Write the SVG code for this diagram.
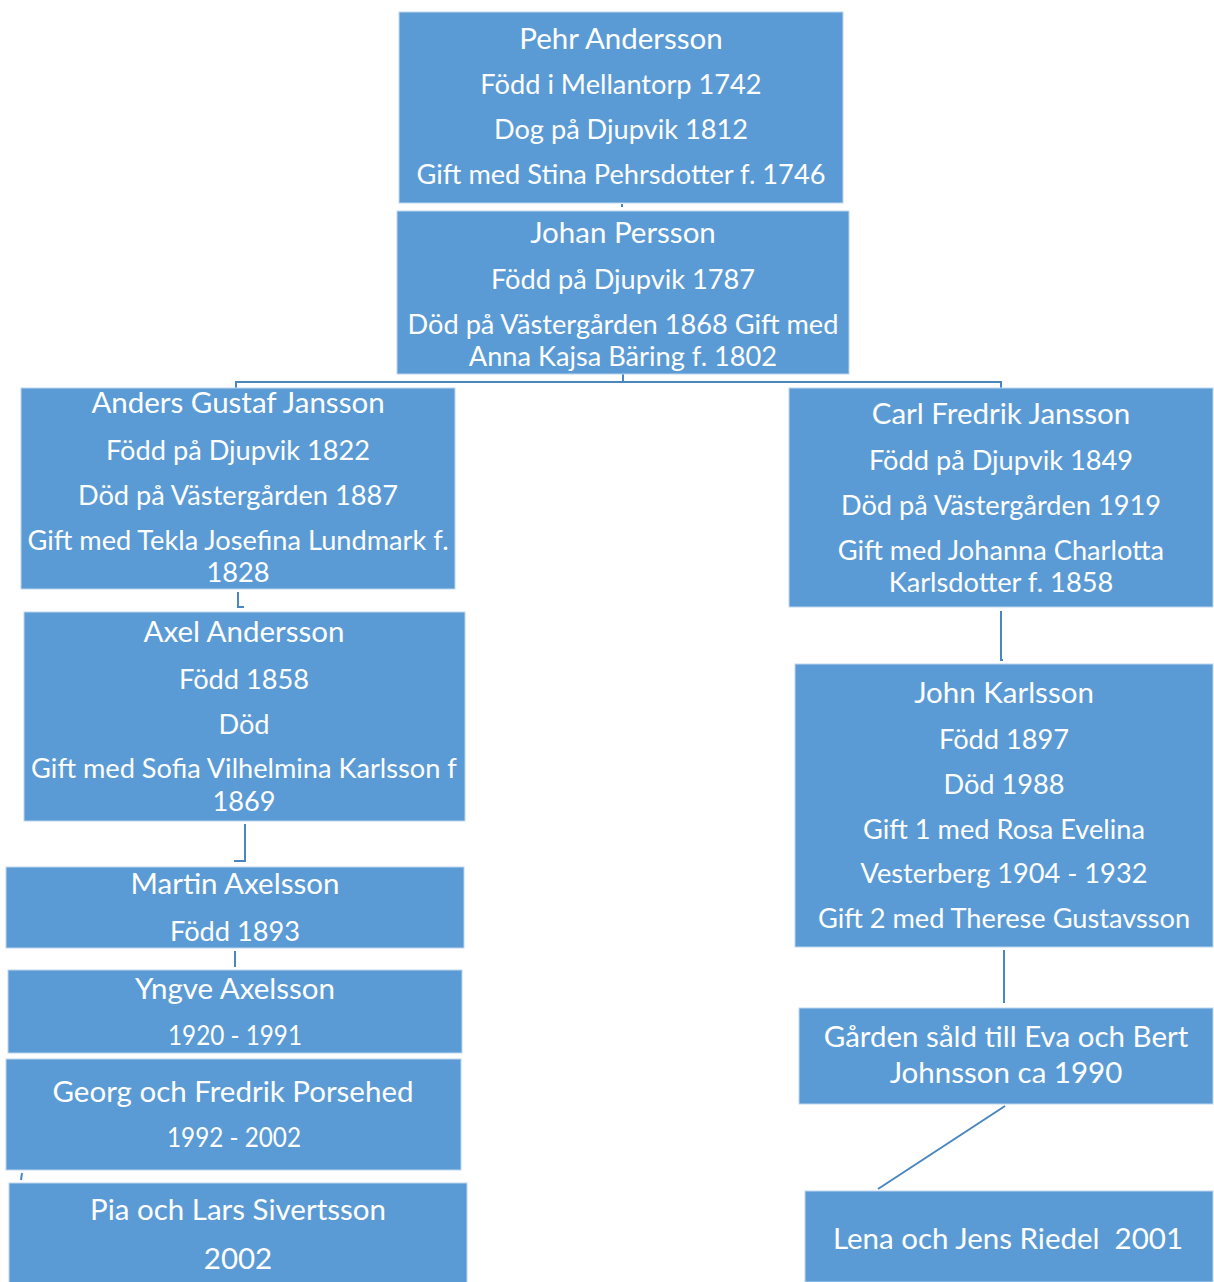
<svg xmlns="http://www.w3.org/2000/svg" width="1214" height="1282" viewBox="0 0 1214 1282">
<style>
.box{fill:#5B9BD5;stroke:#BDD5EE;stroke-width:1}
.t{font-family:Lato,"Liberation Sans",sans-serif;font-size:27.2px;fill:#FFFFFF;text-anchor:middle}
.h{font-size:29.5px}
.c{fill:none;stroke:#4A86C0;stroke-width:2}
</style>
<rect width="1214" height="1282" fill="#FFFFFF"/>
<g id="connectors">
<path class="c" d="M622,204 V207"/>
<path class="c" d="M623,374 V382 M236,388 V382 H1001 V388"/>
<path class="c" d="M238,592 V607 H244"/>
<path class="c" d="M245,824 V861 H234"/>
<path class="c" d="M235,951 V967"/>
<path class="c" d="M22,1173 L21,1180"/>
<path class="c" d="M1001,611 V660 H1003"/>
<path class="c" d="M1004,950 V1003"/>
<path class="c" d="M1005,1106 L878,1189"/>
</g>
<g id="pehr">
<rect class="box" x="399" y="12" width="444" height="191"/>
<text class="t h" x="621" y="49">Pehr Andersson</text>
<text class="t" x="621" y="94">Född i Mellantorp 1742</text>
<text class="t" x="621" y="139">Dog på Djupvik 1812</text>
<text class="t" x="621" y="184">Gift med Stina Pehrsdotter f. 1746</text>
</g>
<g id="johan">
<rect class="box" x="397" y="211" width="452" height="163"/>
<text class="t h" x="623" y="243">Johan Persson</text>
<text class="t" x="623" y="289">Född på Djupvik 1787</text>
<text class="t" x="623" y="334">Död på Västergården 1868 Gift med</text>
<text class="t" x="623" y="366">Anna Kajsa Bäring f. 1802</text>
</g>
<g id="anders">
<rect class="box" x="21" y="388" width="434" height="201"/>
<text class="t h" x="238" y="413">Anders Gustaf Jansson</text>
<text class="t" x="238" y="460">Född på Djupvik 1822</text>
<text class="t" x="238" y="505">Död på Västergården 1887</text>
<text class="t" x="238" y="550">Gift med Tekla Josefina Lundmark f.</text>
<text class="t" x="238" y="582">1828</text>
</g>
<g id="carl">
<rect class="box" x="789" y="388" width="424" height="219"/>
<text class="t h" x="1001" y="424">Carl Fredrik Jansson</text>
<text class="t" x="1001" y="470">Född på Djupvik 1849</text>
<text class="t" x="1001" y="515">Död på Västergården 1919</text>
<text class="t" x="1001" y="560">Gift med Johanna Charlotta</text>
<text class="t" x="1001" y="592">Karlsdotter f. 1858</text>
</g>
<g id="axel">
<rect class="box" x="24" y="612" width="441" height="209"/>
<text class="t h" x="244" y="642">Axel Andersson</text>
<text class="t" x="244" y="689">Född 1858</text>
<text class="t" x="244" y="734">Död</text>
<text class="t" x="244" y="778">Gift med Sofia Vilhelmina Karlsson f</text>
<text class="t" x="244" y="811">1869</text>
</g>
<g id="martin">
<rect class="box" x="6" y="867" width="458" height="81"/>
<text class="t h" x="235" y="894">Martin Axelsson</text>
<text class="t" x="235" y="941">Född 1893</text>
</g>
<g id="yngve">
<rect class="box" x="8" y="970" width="454" height="83"/>
<text class="t h" x="235" y="999">Yngve Axelsson</text>
<text class="t" x="235" y="1045" textLength="134" lengthAdjust="spacingAndGlyphs">1920 - 1991</text>
</g>
<g id="georg">
<rect class="box" x="6" y="1059" width="455" height="111"/>
<text class="t h" x="233" y="1102">Georg och Fredrik Porsehed</text>
<text class="t" x="234" y="1147" textLength="134" lengthAdjust="spacingAndGlyphs">1992 - 2002</text>
</g>
<g id="pia">
<rect class="box" x="9" y="1183" width="458" height="100"/>
<text class="t h" x="238" y="1220">Pia och Lars Sivertsson</text>
<text class="t h" x="238" y="1269">2002</text>
</g>
<g id="john">
<rect class="box" x="795" y="664" width="418" height="283"/>
<text class="t h" x="1004" y="703">John Karlsson</text>
<text class="t" x="1004" y="749">Född 1897</text>
<text class="t" x="1004" y="794">Död 1988</text>
<text class="t" x="1004" y="839">Gift 1 med Rosa Evelina</text>
<text class="t" x="1004" y="883">Vesterberg 1904 - 1932</text>
<text class="t" x="1004" y="928">Gift 2 med Therese Gustavsson</text>
</g>
<g id="garden">
<rect class="box" x="799" y="1008" width="414" height="96"/>
<text class="t h" x="1006" y="1047">Gården såld till Eva och Bert</text>
<text class="t h" x="1006" y="1083">Johnsson ca 1990</text>
</g>
<g id="lena">
<rect class="box" x="805" y="1191" width="408" height="91"/>
<text class="t h" x="1008" y="1249">Lena och Jens Riedel&#160; 2001</text>
</g>
</svg>
